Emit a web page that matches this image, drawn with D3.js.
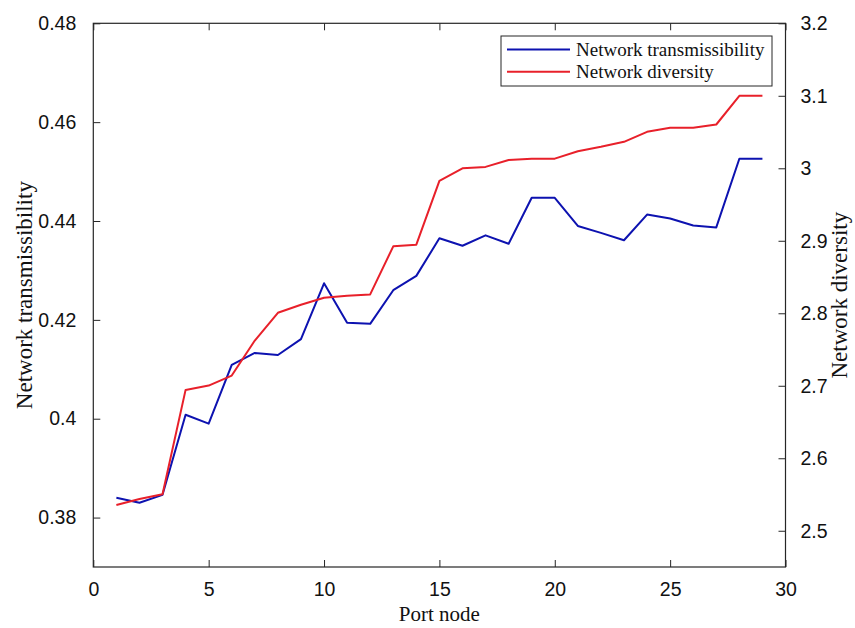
<!DOCTYPE html>
<html>
<head>
<meta charset="utf-8">
<script src="https://cdn.jsdelivr.net/npm/d3@7"></script>
<style>
  html, body { margin: 0; padding: 0; background: #fff; }
  svg { display: block; }
</style>
</head>
<body>
<svg id="chart" width="855" height="628"></svg>
<script>
// ---- data ----
const portNodes = [1,2,3,4,5,6,7,8,9,10,11,12,13,14,15,16,17,18,19,20,21,22,23,24,25,26,27,28,29];
const transmissibility = [0.3840,0.3830,0.3846,0.4008,0.3990,0.4109,0.4133,0.4129,0.4161,0.4274,
  0.4194,0.4192,0.4260,0.4289,0.4365,0.4350,0.4371,0.4354,0.4447,0.4447,
  0.4390,0.4376,0.4361,0.4413,0.4405,0.4391,0.4387,0.4526,0.4526];
const diversity = [2.5355,2.5438,2.5503,2.6943,2.7003,2.7141,2.7624,2.8007,2.8117,2.8214,
  2.8242,2.8260,2.8923,2.8946,2.9826,3.0000,3.0019,3.0115,3.0133,3.0133,
  3.0235,3.0296,3.0365,3.0503,3.0558,3.0558,3.0604,3.1000,3.1000];
const xTicks = [0,5,10,15,20,25,30];
const leftTicks = [0.38,0.40,0.42,0.44,0.46,0.48];
const rightTicks = [2.5,2.6,2.7,2.8,2.9,3.0,3.1,3.2];
const seriesNames = ["Network transmissibility","Network diversity"];
const seriesColors = ["#0d12b0","#e8202a"];

// ---- layout ----
const svg = d3.select("#chart");
const L = 93.3, R = 785.5, T = 23.3, B = 567;
const axisColor = "#262626";
const tickFont = "'Liberation Sans', Arial, sans-serif";
const serif = "'Liberation Serif', 'Times New Roman', serif";

const x = d3.scaleLinear().domain([0,30]).range([L,R]);
const yL = d3.scaleLinear().domain([0.37,0.48]).range([B,T]);
const yR = d3.scaleLinear().domain([2.45,3.2]).range([B,T]);

const fmt = d => String(+d.toFixed(2));

function styleAxis(g){
  g.select(".domain").remove();
  g.selectAll(".tick line").attr("stroke", axisColor).attr("stroke-width", 1);
  g.selectAll(".tick text").attr("fill", "#111").attr("font-family", tickFont).attr("font-size", 19.5);
}

// bottom axis (ticks inward)
svg.append("g").attr("transform", `translate(0,${B})`)
  .call(d3.axisBottom(x).tickValues(xTicks).tickSizeInner(-7).tickSizeOuter(0).tickPadding(15).tickFormat(d => d))
  .call(styleAxis);
// top axis ticks (no labels)
svg.append("g").attr("transform", `translate(0,${T})`)
  .call(d3.axisTop(x).tickValues(xTicks).tickSizeInner(-7).tickSizeOuter(0).tickFormat(""))
  .call(styleAxis);
// left axis
svg.append("g").attr("transform", `translate(${L},0)`)
  .call(d3.axisLeft(yL).tickValues(leftTicks).tickSizeInner(-7).tickSizeOuter(0).tickPadding(17).tickFormat(fmt))
  .call(styleAxis);
// right axis
svg.append("g").attr("transform", `translate(${R},0)`)
  .call(d3.axisRight(yR).tickValues(rightTicks).tickSizeInner(-7).tickSizeOuter(0).tickPadding(15).tickFormat(fmt))
  .call(styleAxis);

// box
svg.append("rect").attr("x", L).attr("y", T).attr("width", R-L).attr("height", B-T)
  .attr("fill", "none").attr("stroke", axisColor).attr("stroke-width", 1.2);

// lines
const lineL = d3.line().x((d,i) => x(portNodes[i])).y(d => yL(d));
const lineR = d3.line().x((d,i) => x(portNodes[i])).y(d => yR(d));
svg.append("path").datum(transmissibility).attr("d", lineL)
  .attr("fill","none").attr("stroke", seriesColors[0]).attr("stroke-width", 2).attr("stroke-linejoin","round");
svg.append("path").datum(diversity).attr("d", lineR)
  .attr("fill","none").attr("stroke", seriesColors[1]).attr("stroke-width", 2).attr("stroke-linejoin","round");

// axis labels
svg.append("text").attr("x", (L+R)/2).attr("y", 621).attr("text-anchor","middle")
  .attr("font-family", serif).attr("font-size", 21).attr("fill","#111").text("Port node");
svg.append("text").attr("transform", `translate(32,${(T+B)/2}) rotate(-90)`).attr("text-anchor","middle")
  .attr("font-family", serif).attr("font-size", 23).attr("fill","#111").text("Network transmissibility");
svg.append("text").attr("transform", `translate(847,${(T+B)/2}) rotate(-90)`).attr("text-anchor","middle")
  .attr("font-family", serif).attr("font-size", 23).attr("fill","#111").text("Network diversity");

// legend
const lg = svg.append("g");
lg.append("rect").attr("x", 501).attr("y", 36).attr("width", 271).attr("height", 50)
  .attr("fill","#fff").attr("stroke", axisColor).attr("stroke-width", 1);
seriesNames.forEach((name, i) => {
  const yy = 49.5 + i*22.3;
  lg.append("line").attr("x1", 507).attr("x2", 570).attr("y1", yy).attr("y2", yy)
    .attr("stroke", seriesColors[i]).attr("stroke-width", 2);
  lg.append("text").attr("x", 576).attr("y", yy + 6).attr("font-family", serif)
    .attr("font-size", 19).attr("fill","#111").text(name);
});
</script>
</body>
</html>
